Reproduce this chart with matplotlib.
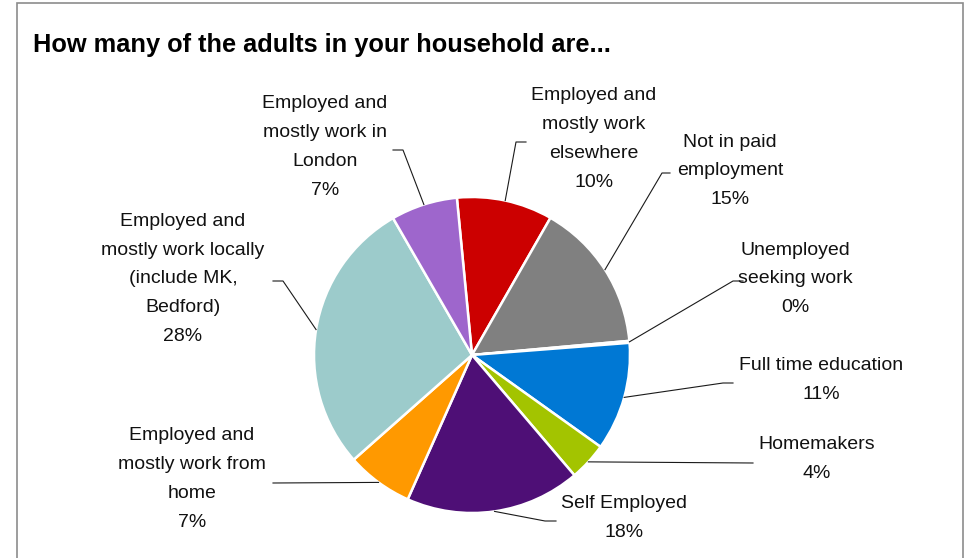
import numpy as np
import matplotlib
matplotlib.use("Agg")
import matplotlib.pyplot as plt
from matplotlib.patches import Rectangle

plt.rcParams["font.family"] = ["Liberation Sans", "DejaVu Sans"]

# Data (clockwise from just left of 12 o'clock)
labels = [
    "Employed and\nmostly work\nelsewhere",
    "Not in paid\nemployment",
    "Unemployed\nseeking work",
    "Full time education",
    "Homemakers",
    "Self Employed",
    "Employed and\nmostly work from\nhome",
    "Employed and\nmostly work locally\n(include MK,\nBedford)",
    "Employed and\nmostly work in\nLondon",
]
values = [9.8, 15.3, 0.2, 11.1, 3.9, 17.9, 6.8, 28.2, 6.8]
colors = ["#CC0000", "#808080", "#FFC000", "#0078D4", "#A3C400",
          "#4E0F76", "#FF9900", "#9CCBCB", "#9E66CC"]

# Label layout in pixels: text centre, leader start (+ elbow)
W, H = 964, 558
CX, CY, R = 472, 355, 158
text_pos = [(594, 139), (730, 171), (795, 279), (821, 380), (817, 459),
            (624, 518), (192, 479), (183, 279), (325, 147)]
leader = [
    [(526, 142), (516, 142)],
    [(670, 173), (662, 173)],
    [(743, 281), (733, 281)],
    [(733, 383), (723, 383)],
    [(753, 463)],
    [(556, 521), (545, 521)],
    [(273, 483)],
    [(273, 281), (283, 281)],
    [(393, 150), (403, 150)],
]


def px(p):
    return ((p[0] - CX) / R, (CY - p[1]) / R)


fig = plt.figure(figsize=(W / 100, H / 100), dpi=100)
fig.patch.set_facecolor("white")

# chart border
fig.patches.append(Rectangle((17 / W, -0.05), (963 - 17) / W, 1.05 - 3.5 / H,
                             transform=fig.transFigure, fill=False,
                             edgecolor="#8c8c8c", linewidth=1.2))

fig.text(33 / W, 1 - 45 / H, "How many of the adults in your household are...",
         fontsize=18.3, fontweight="bold", ha="left", va="center")

ax = fig.add_axes([(CX - R) / W, (H - CY - R) / H, 2 * R / W, 2 * R / H])
wedges, _ = ax.pie(values, colors=colors, startangle=95.5, counterclock=False,
                   radius=1, wedgeprops=dict(edgecolor="white", linewidth=1.8))
ax.set_xlim(-1, 1)
ax.set_ylim(-1, 1)
ax.set_aspect("auto")
ax.axis("off")

for w, lab, val, tp, ld in zip(wedges, labels, values, text_pos, leader):
    mid = np.deg2rad((w.theta1 + w.theta2) / 2)
    pts = [px(p) for p in ld] + [(np.cos(mid), np.sin(mid))]
    xs, ys = zip(*pts)
    ax.plot(xs, ys, color="#1a1a1a", linewidth=0.8, clip_on=False)
    tx, ty = px(tp)
    ax.text(tx, ty, f"{lab}\n{val:.0f}%", ha="center", va="center",
            fontsize=14, linespacing=1.9, color="#111111", clip_on=False)

fig.savefig("out.png", dpi=100)
